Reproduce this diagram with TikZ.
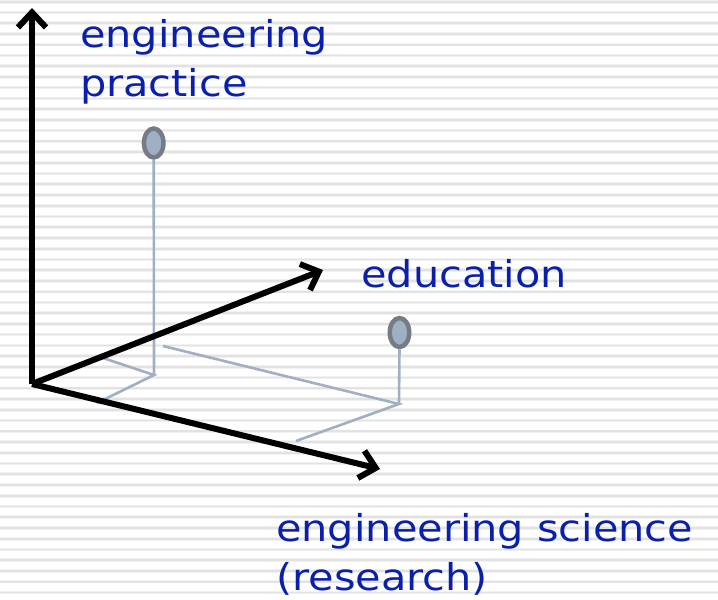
\documentclass[tikz,border=0pt]{standalone}
\usepackage{fontspec}
\newfontfamily\labelfont[FakeStretch=1.12]{DejaVu Sans}
\usetikzlibrary{arrows.meta,shapes.geometric}
\definecolor{labelblue}{RGB}{10,32,170}
\definecolor{guidegray}{RGB}{160,176,194}
\definecolor{knobfill}{RGB}{160,176,196}
\definecolor{knobedge}{RGB}{118,124,134}
\definecolor{stripe}{RGB}{226,226,226}
\definecolor{stripefringe}{RGB}{242,242,242}
\begin{document}
\begin{tikzpicture}[x=1pt,y=-1pt,
    axis/.style={line width=6pt, -{Straight Barb[length=15pt,width=28pt]}},
    guide/.style={guidegray, line width=2.6pt},
    knob/.style={ellipse, draw=knobedge, fill=knobfill, line width=4.5pt,
      minimum width=19.5pt, minimum height=29pt, inner sep=0pt},
    axistext/.style={labelblue, inner sep=0pt, align=left, anchor=base west,
      font=\labelfont\fontsize{37}{49}\selectfont}]
    \useasboundingbox (0,0) rectangle (718,600);
    % striped background
    \foreach \i in {0,...,55} {
        \draw[stripefringe, line width=3.6pt] (0,{1.7+\i*10.74}) -- (718,{1.7+\i*10.74});
        \draw[stripe, line width=1.7pt] (0,{1.7+\i*10.74}) -- (718,{1.7+\i*10.74});
    }
    \coordinate (O) at (32,384);
    \coordinate (up) at (32,8);
    \coordinate (edu) at (323,270);
    \coordinate (sci) at (380,469);
    % guide lines to the two points
    \node[knob] (pracknob) at (153.7,143) {};
    \node[knob] (eduknob) at (399.5,332.5) {};
    \coordinate (pracfoot) at (154,375);
    \coordinate (edufoot) at (399,404);
    \coordinate (pracedu) at (97,356);
    \coordinate (pracsci) at (97,403);
    \coordinate (eduedu) at (163,346);
    \coordinate (edusci) at (296,441);
    \draw[guide] (pracknob.south) -- (pracfoot);
    \draw[guide] (pracedu) -- (pracfoot) -- (pracsci);
    \draw[guide] (eduknob.south) -- (edufoot);
    \draw[guide] (eduedu) -- (edufoot) -- (edusci);
    % axes
    \draw[axis] (O) -- (up);
    \draw[axis] (O) -- (edu);
    \draw[axis] (O) -- (sci);
    \node[axistext] (practice) at (80,96) {engineering\\practice};
    \node[axistext] (education) at (361,287.7) {education};
    \node[axistext] (science) at (276,590.7) {engineering science\\(research)};
\end{tikzpicture}
\end{document}
